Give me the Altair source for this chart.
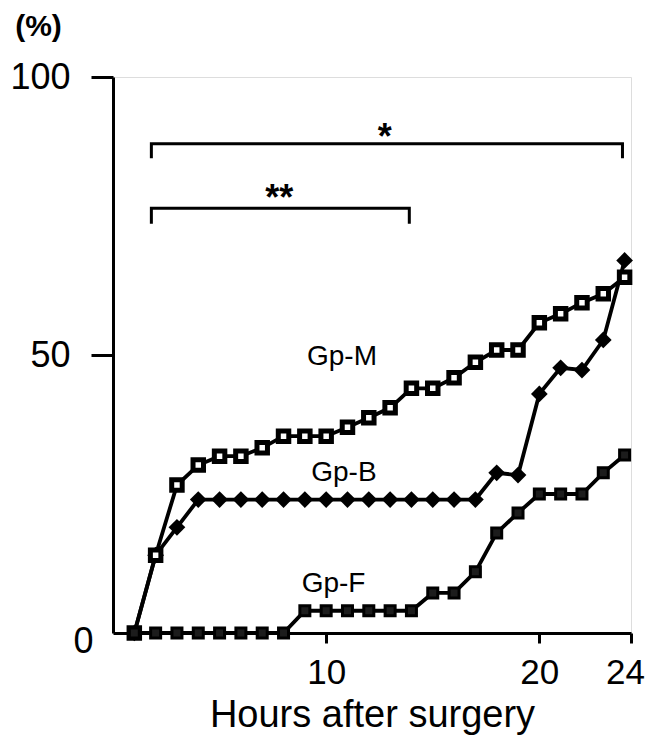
import altair as alt
import pandas as pd

# ---- data ----
hours = [1, 2, 3, 4, 5, 6, 7, 8, 9, 10, 11, 12, 13, 14, 15, 16, 17, 18, 19, 20, 21, 22, 23, 24]
gp_m = [0, 14, 26.6, 30.2, 31.8, 31.8, 33.3, 35.4, 35.4, 35.4, 37.0, 38.7,
        40.5, 44.0, 44.0, 45.9, 48.7, 50.9, 50.9, 55.8, 57.4, 59.4, 61.0, 64.0]
gp_b = [0, 14, 19, 24, 24, 24, 24, 24, 24, 24, 24, 24,
        24, 24, 24, 24, 24, 28.8, 28.4, 43.0, 47.7, 47.3, 52.7, 67.0]
gp_f = [0, 0, 0, 0, 0, 0, 0, 0, 4, 4, 4, 4,
        4, 4, 7.2, 7.2, 11.0, 18.0, 21.6, 25.0, 25.0, 25.0, 28.8, 32.0]

group_names = ["Gp-M", "Gp-B", "Gp-F"]
label_x = [9.1, 9.3, 8.85]
label_y = [49.6, 28.8, 8.8]

bracket_left = [1.8, 1.8]
bracket_right = [23.9, 13.9]
bracket_top = [88.0, 76.4]
bracket_end = [85.4, 73.6]
star_text = ["*", "**"]
star_x = [12.75, 7.8]
star_y = [89.0, 78.0]

y_ticks = [0, 50, 100]
x_ticks = [10, 20, 24.3]

# ---- tables ----
rows = []
for name, vals in zip(group_names, [gp_m, gp_b, gp_f]):
    for h, v in zip(hours, vals):
        rows.append({"group": name, "hour": h, "pct": v})
df = pd.DataFrame(rows)

brows = []
for i in range(len(bracket_left)):
    pts = [(bracket_left[i], bracket_end[i]), (bracket_left[i], bracket_top[i]),
           (bracket_right[i], bracket_top[i]), (bracket_right[i], bracket_end[i])]
    for k, (xx, yy) in enumerate(pts):
        brows.append({"b": i, "k": k, "hour": xx, "pct": yy})
bdf = pd.DataFrame(brows)

labels_df = pd.DataFrame({"text": group_names, "hour": label_x, "pct": label_y})
stars_df = pd.DataFrame({"text": star_text, "hour": star_x, "pct": star_y})

FONT = "Liberation Sans"

x_enc = alt.X(
    "hour:Q",
    scale=alt.Scale(domain=[0, 24.3], nice=False, zero=False),
    axis=alt.Axis(
        values=x_ticks,
        labelExpr="datum.value > 24 ? '24' : datum.label",
        labelFlush=False,
        labelOffset={"condition": {"test": "datum.value > 24", "value": -6}, "value": 0},
        tickSize=10, tickWidth=3, domainWidth=3,
        domainColor="black", tickColor="black", labelColor="black",
        labelFont=FONT, labelFontSize=35, labelPadding=12,
        title="Hours after surgery", titleFont=FONT, titleFontSize=38,
        titleFontWeight="normal", titleColor="black", titlePadding=6,
        grid=False,
    ),
)
y_enc = alt.Y(
    "pct:Q",
    scale=alt.Scale(domain=[0, 100], nice=False),
    axis=alt.Axis(
        values=y_ticks,
        tickSize=22, tickWidth=3, domainWidth=3,
        tickOpacity={"condition": {"test": "datum.value === 0", "value": 0}, "value": 1},
        labelPadding={"condition": {"test": "datum.value === 0", "value": -2}, "value": 21},
        labelOffset={"condition": {"test": "datum.value === 0", "value": 8}, "value": 0},
        domainColor="black", tickColor="black", labelColor="black",
        labelFont=FONT, labelFontSize=36,
        title="(%)", titleAngle=0, titleAlign="center", titleBaseline="middle",
        titleX=-75, titleY=-51, titleFont=FONT, titleFontSize=30,
        titleFontWeight="bold", titleColor="black",
        grid=False,
    ),
)

base = alt.Chart(df)

lines = base.mark_line(color="black", strokeWidth=3.8).encode(
    x=x_enc, y=y_enc, detail="group:N", order="hour:Q"
)

pts_m = base.transform_filter(alt.datum.group == "Gp-M").mark_point(
    shape="square", size=110, filled=True, fill="white", stroke="black",
    strokeWidth=5, opacity=1
).encode(x=x_enc, y=y_enc)

pts_b = base.transform_filter(alt.datum.group == "Gp-B").mark_point(
    shape="diamond", size=280, filled=True, color="black", opacity=1
).encode(x=x_enc, y=y_enc)

pts_f = base.transform_filter(alt.datum.group == "Gp-F").mark_point(
    shape="square", size=100, filled=True, fill="#1c1c1c", stroke="black",
    strokeWidth=3, opacity=1
).encode(x=x_enc, y=y_enc)

brackets = alt.Chart(bdf).mark_line(color="black", strokeWidth=3, strokeCap="butt").encode(
    x=x_enc, y=y_enc, detail="b:N", order="k:Q"
)

group_labels = alt.Chart(labels_df).mark_text(
    align="left", baseline="middle", font=FONT, fontSize=28, color="black"
).encode(x=x_enc, y=y_enc, text="text:N")

stars = alt.Chart(stars_df).mark_text(
    align="center", baseline="middle", font=FONT, fontSize=36, fontWeight="bold", color="black"
).encode(x=x_enc, y=y_enc, text="text:N")

chart = alt.layer(
    lines, brackets, pts_b, pts_m, pts_f, group_labels, stars
).properties(
    width=518, height=556,
    autosize=alt.AutoSizeParams(type="none"),
    padding={"left": 105, "top": 69, "right": 14, "bottom": 103},
).configure_view(stroke=None).configure(background="white")

chart.save("out.html", embed_options={"renderer": "svg", "actions": False})
